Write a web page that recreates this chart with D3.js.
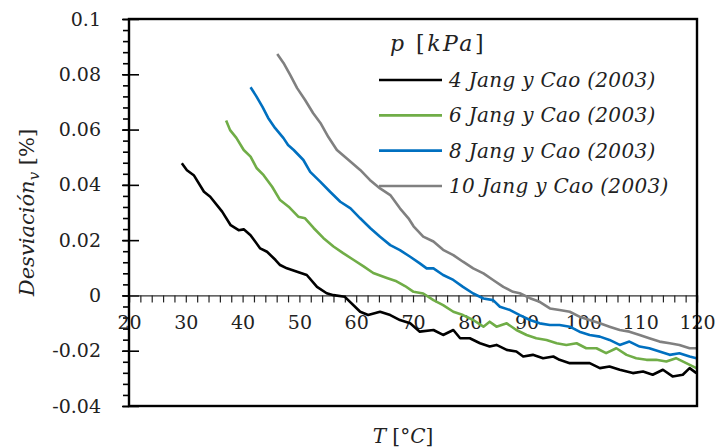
<!DOCTYPE html>
<html>
<head>
<meta charset="utf-8">
<script src="https://cdn.jsdelivr.net/npm/d3@7"></script>
<style>
  html, body { margin: 0; padding: 0; background: #fff; }
  svg { display: block; }
  .tick text { font-family: "DejaVu Serif", serif; font-size: 19px; fill: #222; }
</style>
</head>
<body>
<svg id="chart" width="715" height="448"></svg>
<script>
// Deviation of saturated-vapour property vs. temperature, four pressures
const pressures = [4, 6, 8, 10];
const legendLabels = ["4 Jang y Cao (2003)", "6 Jang y Cao (2003)", "8 Jang y Cao (2003)", "10 Jang y Cao (2003)"];
const colors = ["#000000", "#70ad47", "#0070c0", "#808080"];

const xTicks = [20, 30, 40, 50, 60, 70, 80, 90, 100, 110, 120];
const yTicks = [-0.04, -0.02, 0, 0.02, 0.04, 0.06, 0.08, 0.1];

// [T °C, deviation %]
const p4 = [
  [29.3, 0.0478], [30.2, 0.0453], [31.4, 0.0435], [33.2, 0.0375], [34.3, 0.0357],
  [36.4, 0.0303], [37.9, 0.0254], [39.3, 0.0236], [40.2, 0.0239], [41.4, 0.0218],
  [43.1, 0.0170], [44.3, 0.0158], [45.8, 0.0128], [46.6, 0.0110], [47.8, 0.0098],
  [49.6, 0.0086], [51.3, 0.0074], [53.1, 0.0031], [54.8, 0.0008], [56.0, 0.0001],
  [58.0, -0.0005], [60.7, -0.0059], [62.1, -0.0071], [64.2, -0.0059], [66.0, -0.0071],
  [67.7, -0.0089], [69.5, -0.0101], [71.2, -0.0131], [73.6, -0.0125], [75.3, -0.0143],
  [77.1, -0.0125], [78.3, -0.0155], [80.0, -0.0155], [81.8, -0.0173], [83.5, -0.0185],
  [84.7, -0.0179], [86.5, -0.0197], [88.2, -0.0203], [89.4, -0.0221], [91.1, -0.0215],
  [92.9, -0.0227], [94.7, -0.0221], [95.8, -0.0233], [97.6, -0.0245], [99.3, -0.0245],
  [101.1, -0.0245], [102.9, -0.0263], [104.6, -0.0257], [106.4, -0.0269], [108.7, -0.0281],
  [110.5, -0.0275], [112.2, -0.0287], [114.0, -0.0269], [115.7, -0.0293], [117.5, -0.0287],
  [118.7, -0.0263], [119.9, -0.0281]
];
const p6 = [
  [37.1, 0.0633], [37.8, 0.0598], [38.9, 0.0570], [40.2, 0.0526], [41.4, 0.0502],
  [42.5, 0.0460], [43.7, 0.0435], [45.2, 0.0393], [46.6, 0.0345], [48.1, 0.0321],
  [49.8, 0.0285], [51.0, 0.0279], [52.5, 0.0244], [54.2, 0.0208], [56.0, 0.0177],
  [57.7, 0.0153], [59.5, 0.0129], [61.3, 0.0105], [63.0, 0.0081], [65.4, 0.0063],
  [67.1, 0.0051], [68.6, 0.0034], [70.1, 0.0013], [71.8, 0.0007], [73.6, -0.0017],
  [75.3, -0.0035], [77.1, -0.0059], [78.8, -0.0071], [80.6, -0.0089], [82.4, -0.0113],
  [83.5, -0.0095], [84.7, -0.0113], [86.5, -0.0101], [88.2, -0.0125], [90.0, -0.0143],
  [91.7, -0.0155], [93.5, -0.0161], [95.3, -0.0173], [97.0, -0.0179], [98.8, -0.0173],
  [100.5, -0.0191], [102.3, -0.0191], [104.0, -0.0209], [105.8, -0.0191], [107.6, -0.0215],
  [109.3, -0.0227], [111.1, -0.0233], [112.8, -0.0233], [114.6, -0.0239], [116.3, -0.0227],
  [118.1, -0.0245], [119.9, -0.0263]
];
const p8 = [
  [41.4, 0.0753], [42.4, 0.0721], [43.5, 0.0682], [44.5, 0.0642], [45.7, 0.0606],
  [47.2, 0.0569], [48.0, 0.0544], [49.0, 0.0526], [50.7, 0.0490], [51.9, 0.0447],
  [53.7, 0.0411], [55.4, 0.0375], [57.2, 0.0339], [59.0, 0.0315], [60.7, 0.0279],
  [62.5, 0.0243], [64.2, 0.0212], [66.0, 0.0182], [67.7, 0.0164], [69.5, 0.0140],
  [71.2, 0.0116], [72.4, 0.0098], [73.6, 0.0098], [75.3, 0.0074], [77.1, 0.0056],
  [78.8, 0.0031], [80.6, 0.0007], [82.4, -0.0011], [84.1, -0.0017], [85.3, -0.0041],
  [87.1, -0.0053], [88.8, -0.0071], [90.6, -0.0089], [92.3, -0.0101], [94.1, -0.0107],
  [95.8, -0.0107], [97.6, -0.0113], [99.3, -0.0131], [101.1, -0.0143], [102.9, -0.0149],
  [104.6, -0.0161], [106.4, -0.0179], [108.1, -0.0167], [109.9, -0.0185], [111.6, -0.0191],
  [113.4, -0.0203], [115.2, -0.0215], [116.9, -0.0209], [118.7, -0.0221], [119.9, -0.0227]
];
const p10 = [
  [46.1, 0.0873], [47.2, 0.0841], [48.4, 0.0797], [49.6, 0.0750], [51.0, 0.0707],
  [52.4, 0.0660], [53.7, 0.0624], [55.1, 0.0573], [56.6, 0.0526], [58.3, 0.0496],
  [60.7, 0.0454], [62.4, 0.0418], [64.2, 0.0387], [66.0, 0.0363], [67.7, 0.0315],
  [69.2, 0.0279], [70.1, 0.0250], [71.8, 0.0213], [73.6, 0.0195], [75.3, 0.0165],
  [77.1, 0.0146], [78.8, 0.0122], [80.6, 0.0098], [82.4, 0.0080], [84.1, 0.0056],
  [85.9, 0.0031], [87.6, 0.0013], [88.8, 0.0008], [90.6, -0.0010], [92.3, -0.0023],
  [94.1, -0.0047], [95.8, -0.0053], [97.6, -0.0059], [99.3, -0.0077], [101.1, -0.0089],
  [102.9, -0.0101], [104.6, -0.0113], [106.4, -0.0125], [108.1, -0.0131], [109.9, -0.0143],
  [111.6, -0.0155], [113.4, -0.0167], [115.2, -0.0173], [116.9, -0.0179], [118.7, -0.0191],
  [119.9, -0.0191]
];
const seriesData = [p4, p6, p8, p10];

const svg = d3.select("#chart");
const plot = { left: 129, right: 697, top: 19, bottom: 406 };

const x = d3.scaleLinear().domain([20, 120]).range([plot.left, plot.right]);
const y = d3.scaleLinear().domain([-0.04, 0.1]).range([plot.bottom, plot.top]);

const fmtY = d => String(+d.toFixed(2));

// ---- Y axis: minor ticks (outward) and majors crossing the axis
const yMinor = d3.range(-0.04, 0.1001, 0.004);
svg.append("g")
  .attr("transform", `translate(${plot.left},0)`)
  .call(d3.axisLeft(y).tickValues(yMinor).tickSize(6).tickFormat(""))
  .call(g => g.select(".domain").remove())
  .call(g => g.selectAll(".tick line").attr("stroke", "#000").attr("stroke-width", 1.6));

svg.append("g")
  .attr("transform", `translate(${plot.left},0)`)
  .call(d3.axisLeft(y).tickValues(yTicks).tickSize(7).tickPadding(21).tickFormat(fmtY))
  .call(g => g.select(".domain").remove())
  .call(g => g.selectAll(".tick line").attr("x1", 10).attr("x2", -7)
    .attr("stroke", "#000").attr("stroke-width", 1.6));

// ---- X axis at deviation = 0
const xMinor = d3.range(20, 120.01, 2);
svg.append("g")
  .attr("transform", `translate(0,${y(0)})`)
  .call(d3.axisBottom(x).tickValues(xMinor).tickSize(7).tickFormat(""))
  .call(g => g.select(".domain").attr("stroke", "#333").attr("stroke-width", 1.3))
  .call(g => g.selectAll(".tick line").attr("stroke", "#222").attr("stroke-width", 1.2));

svg.append("g")
  .attr("transform", `translate(0,${y(0)})`)
  .call(d3.axisBottom(x).tickValues(xTicks).tickSize(7).tickPadding(13).tickFormat(d3.format("d")))
  .call(g => g.select(".domain").remove())
  .call(g => g.selectAll(".tick line").remove());

// ---- Series lines
const line = d3.line().x(d => x(d[0])).y(d => y(d[1]));
svg.append("g").selectAll("path")
  .data(seriesData)
  .join("path")
  .attr("d", line)
  .attr("fill", "none")
  .attr("stroke", (d, i) => colors[i])
  .attr("stroke-width", 2.6)
  .attr("stroke-linejoin", "round");

// ---- Plot frame
svg.append("rect")
  .attr("x", plot.left).attr("y", plot.top)
  .attr("width", plot.right - plot.left).attr("height", plot.bottom - plot.top)
  .attr("fill", "none").attr("stroke", "#000").attr("stroke-width", 2.4);

// ---- Legend
const legend = svg.append("g").attr("font-family", "DejaVu Serif, serif");
const title = legend.append("text").attr("x", 390).attr("y", 51)
  .attr("font-size", 22).attr("letter-spacing", 2.5).attr("fill", "#222");
title.append("tspan").attr("font-style", "italic").text("p");
title.append("tspan").text(" [");
title.append("tspan").attr("font-style", "italic").text("kPa");
title.append("tspan").text("]");

const legendY = d3.scalePoint().domain(pressures).range([80, 186]);
const items = legend.selectAll("g.item")
  .data(pressures)
  .join("g")
  .attr("class", "item")
  .attr("transform", p => `translate(0,${legendY(p)})`);
items.append("line")
  .attr("x1", 379).attr("x2", 442)
  .attr("stroke", (p, i) => colors[i]).attr("stroke-width", 2.6);
items.append("text")
  .attr("x", 449).attr("dy", "0.35em")
  .attr("font-size", 20).attr("font-style", "italic").attr("fill", "#222")
  .attr("letter-spacing", 0.3)
  .text((p, i) => legendLabels[i]);

// ---- Axis titles
const yTitle = svg.append("text")
  .attr("transform", `translate(34,${(plot.top + plot.bottom) / 2}) rotate(-90)`)
  .attr("text-anchor", "middle")
  .attr("font-family", "DejaVu Serif, serif").attr("font-size", 21).attr("fill", "#222");
yTitle.append("tspan").attr("font-style", "italic").text("Desviación");
yTitle.append("tspan").attr("font-style", "italic").attr("font-size", 15).attr("dy", 5).text("v");
yTitle.append("tspan").attr("dy", -5).text(" [%]");

const xTitle = svg.append("text")
  .attr("x", (plot.left + plot.right) / 2 - 10).attr("y", 443)
  .attr("text-anchor", "middle")
  .attr("font-family", "DejaVu Serif, serif").attr("font-size", 20).attr("fill", "#222");
xTitle.append("tspan").attr("font-style", "italic").text("T");
xTitle.append("tspan").text(" [°");
xTitle.append("tspan").attr("font-style", "italic").text("C");
xTitle.append("tspan").text("]");
</script>
</body>
</html>
